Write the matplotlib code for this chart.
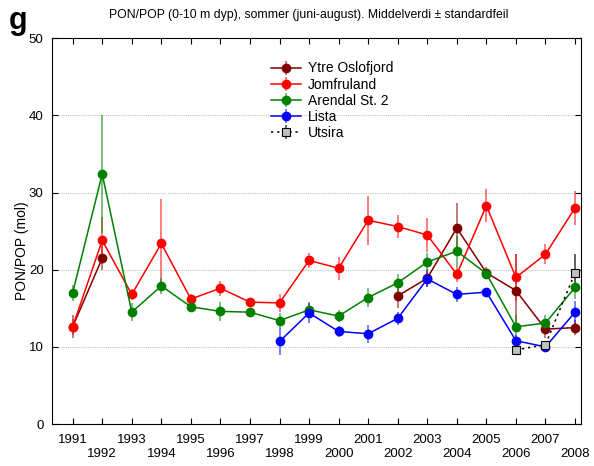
import numpy as np
import matplotlib.pyplot as plt

plt.rcParams['font.family'] = ['Liberation Sans', 'DejaVu Sans']

years = np.arange(1991, 2009)
nan = np.nan

ytre = [12.6, 21.5, nan, nan, nan, nan, nan, nan, nan, nan, nan,
        16.6, 18.9, 25.4, 19.6, 17.3, 12.3, 12.5]
ytre_err = [1.5, 1.6, nan, nan, nan, nan, nan, nan, nan, nan, nan,
            1.5, 1.2, 3.3, 0.8, 4.7, 1.1, 1.0]

jomf = [12.6, 23.8, 16.8, 23.4, 16.2, 17.6, 15.8, 15.7, 21.2, 20.2, 26.4,
        25.6, 24.5, 19.4, 28.3, 19.0, 22.0, 28.0]
jomf_err = [1.0, 3.0, 0.7, 5.7, 0.6, 1.0, 0.4, 1.2, 1.0, 1.5, 3.2,
            1.5, 2.2, 1.0, 2.1, 3.0, 1.3, 2.2]

arendal = [17.0, 32.4, 14.5, 17.9, 15.2, 14.6, 14.5, 13.4, 14.8, 14.0, 16.4,
           18.3, 21.0, 22.4, 19.5, 12.6, 13.1, 17.7]
arendal_err = [1.0, 7.6, 1.2, 1.0, 0.7, 1.2, 0.5, 1.0, 1.0, 0.8, 1.2,
               1.2, 1.2, 2.0, 0.5, 1.5, 1.0, 1.5]

lista = [nan, nan, nan, nan, nan, nan, nan, 10.7, 14.4, 12.0, 11.7,
         13.7, 18.8, 16.8, 17.1, 10.8, 10.0, 14.5]
lista_err = [nan, nan, nan, nan, nan, nan, nan, 1.8, 1.3, 0.7, 1.2,
             0.8, 1.0, 1.0, 0.5, 0.8, 0.5, 1.5]

utsira = [nan] * 15 + [9.6, 10.3, 19.6]
utsira_err = [nan] * 15 + [0.7, 0.5, 2.5]

series = [
    ('Ytre Oslofjord', ytre, ytre_err, '#800000'),
    ('Jomfruland', jomf, jomf_err, '#ff0000'),
    ('Arendal St. 2', arendal, arendal_err, '#008000'),
    ('Lista', lista, lista_err, '#0000ff'),
]

fig = plt.figure(figsize=(5.94, 4.66), dpi=100)
ax = fig.add_axes([0.0875, 0.090, 0.8905, 0.828])

for name, vals, errs, col in series:
    ax.errorbar(years, vals, yerr=errs, color=col, ecolor=col, elinewidth=1.3,
                lw=1.1, marker='o', ms=6, capsize=0, label=name)
# error bars lighter
for coll in ax.collections:
    coll.set_alpha(0.55)

ax.errorbar(years, utsira, yerr=utsira_err, color='black', ecolor='#555555',
            elinewidth=1.3, lw=1.1, ls=(0, (1.5, 2.5)), marker='s', ms=5.5,
            mfc='#c0c0c0', mec='black', mew=0.8, capsize=0, label='Utsira')

ax.set_ylim(0, 50)
ax.set_yticks([0, 10, 20, 30, 40, 50])
ax.set_xlim(1990.3, 2008.2)
ax.set_xticks(years)
ax.set_xticklabels([str(y) if y % 2 else '\n' + str(y) for y in years])
ax.tick_params(direction='in', top=True, right=True, labelsize=9.5, length=4,
               pad=6)
ax.tick_params(axis='x', pad=7)
for v in [10, 20, 30, 40]:
    ax.axhline(v, color='#c4c4c4', lw=0.8, ls=(0, (1, 1)), zorder=0)

ax.set_ylabel('PON/POP (mol)', fontsize=10)
ax.yaxis.set_label_coords(-0.043, 0.45)
fig.text(0.52, 0.968, 'PON/POP (0-10 m dyp), sommer (juni-august). Middelverdi ± standardfeil',
         ha='center', va='center', fontsize=8.8)
fig.text(0.015, 0.955, 'g', fontsize=22, fontweight='bold', ha='left', va='center')

leg = ax.legend(loc='upper left', bbox_to_anchor=(0.395, 0.965), frameon=False,
                fontsize=10, handlelength=2.2, labelspacing=0.15,
                borderpad=0.2, handletextpad=0.5)

fig.savefig('out.png', dpi=100)
